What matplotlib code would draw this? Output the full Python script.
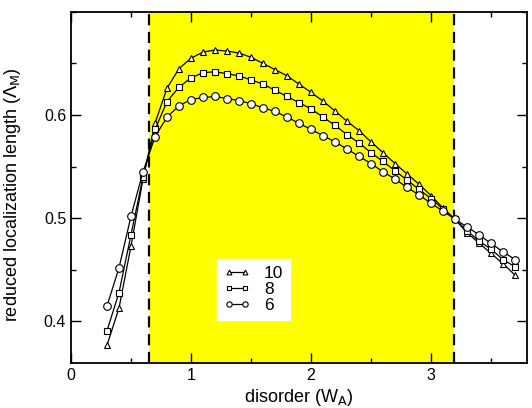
import numpy as np
import matplotlib
matplotlib.use("Agg")
import matplotlib.pyplot as plt
from matplotlib.ticker import MultipleLocator

plt.rcParams['font.family'] = ['Liberation Sans', 'DejaVu Sans']

# disorder values W_A
w = np.round(np.arange(0.3, 3.71, 0.1), 2)

# reduced localization length for M = 10, 8, 6
lam_10 = [0.377, 0.413, 0.473, 0.538, 0.592, 0.626, 0.645, 0.655, 0.661, 0.663,
          0.662, 0.660, 0.656, 0.650, 0.644, 0.638, 0.630, 0.622, 0.6135, 0.604,
          0.594, 0.585, 0.574, 0.5636, 0.553, 0.543, 0.533, 0.522, 0.510, 0.499,
          0.486, 0.476, 0.466, 0.456, 0.445]
lam_8 = [0.391, 0.428, 0.484, 0.540, 0.586, 0.613, 0.627, 0.636, 0.641, 0.642,
         0.640, 0.638, 0.634, 0.630, 0.624, 0.618, 0.612, 0.606, 0.598, 0.590,
         0.581, 0.573, 0.5636, 0.555, 0.546, 0.537, 0.528, 0.519, 0.509, 0.499,
         0.488, 0.478, 0.470, 0.460, 0.453]
lam_6 = [0.415, 0.452, 0.502, 0.545, 0.579, 0.598, 0.609, 0.615, 0.617, 0.618,
         0.616, 0.614, 0.611, 0.607, 0.6035, 0.598, 0.592, 0.586, 0.580, 0.574,
         0.567, 0.560, 0.553, 0.545, 0.538, 0.530, 0.5226, 0.5145, 0.507, 0.499,
         0.4917, 0.484, 0.4756, 0.4676, 0.460]

series = [("10", lam_10, "^"), ("8", lam_8, "s"), ("6", lam_6, "o")]
band = (0.652, 3.19)
yticks = [0.4, 0.5, 0.6]

fig = plt.figure(figsize=(5.32, 4.08), dpi=100)
ax = fig.add_axes([0.1335, 0.111, 0.857, 0.86])

# shaded region between the two dashed lines
ax.axvspan(band[0], band[1], color="#ffff00", lw=0, zorder=0)
for xb in band:
    ax.axvline(xb, color="black", lw=1.6, ls=(0, (5, 3)), zorder=1)

for lab, y, m in series:
    ax.plot(w, y, color="black", lw=0.9, marker=m, ms=5 if m != "o" else 5.5,
            mfc="white", mec="black", mew=0.8, label=lab, zorder=3)

ax.set_xlim(0, 3.8)
ax.set_ylim(0.36, 0.70)
ax.xaxis.set_major_locator(MultipleLocator(1))
ax.xaxis.set_minor_locator(MultipleLocator(0.5))
ax.set_yticks(yticks)
ax.yaxis.set_minor_locator(MultipleLocator(0.05))
ax.tick_params(which="both", direction="in", top=True, right=True, labelsize=11.5)
ax.tick_params(which="major", length=7.5, width=1)
ax.tick_params(which="minor", length=3.8, width=1)
for s in ax.spines.values():
    s.set_linewidth(1.3)

ax.set_xlabel("disorder (W$_\\mathrm{A}$)", fontsize=13, labelpad=3)
ax.set_ylabel("reduced localization length ($\\Lambda_\\mathrm{M}$)", fontsize=13)
ax.yaxis.set_label_coords(-0.105, 0.478)

ax.legend(loc="upper left", bbox_to_anchor=(0.32, 0.295), borderaxespad=0,
          numpoints=2, fontsize=12.5, frameon=True, fancybox=False,
          edgecolor="white", framealpha=1, handlelength=1.5, handletextpad=0.8,
          borderpad=0.4, labelspacing=0.05, markerscale=0.7)

fig.savefig("out.png", dpi=100)
